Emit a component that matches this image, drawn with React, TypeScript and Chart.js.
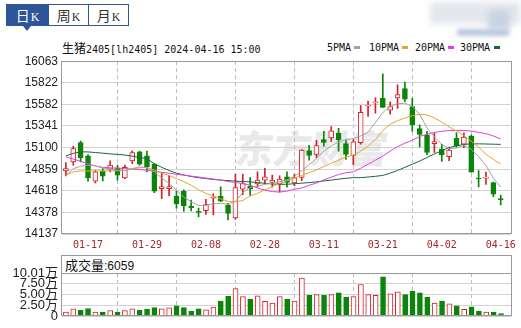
import React, { useEffect, useRef } from "react";
import { Chart, registerables } from "chart.js";

Chart.register(...registerables);

const dates = [
  "01-12","01-15","01-16","01-17","01-18","01-19","01-22","01-23","01-24","01-25",
  "01-26","01-29","01-30","01-31","02-01","02-02","02-05","02-06","02-07","02-08",
  "02-19","02-20","02-21","02-22","02-23","02-26","02-27","02-28","02-29","03-01",
  "03-04","03-05","03-06","03-07","03-08","03-11","03-12","03-13","03-14","03-15",
  "03-18","03-19","03-20","03-21","03-22","03-25","03-26","03-27","03-28","03-29",
  "04-01","04-02","04-03","04-08","04-09","04-10","04-11","04-12","04-15","04-16",
];

const opens = [
  14840,14941,15157,15008,14725,14837,14859,14874,14762,14952,
  15053,15008,14915,14643,14643,14561,14613,14445,14385,14397,
  14535,14556,14459,14315,14637,14669,14694,14738,14712,14694,
  14775,14705,14767,15068,15024,15188,15207,15261,15144,15013,
  15155,15563,15598,15648,15516,15655,15757,15556,15312,15239,
  15144,15082,14998,15202,15137,15228,14760,14760,14709,14525,
];
const highs = [
  14934,15113,15172,15023,14848,14866,14952,14904,14904,15064,
  15060,15060,14922,14822,14792,14613,14628,14516,14426,14523,
  14585,14663,14478,14805,14805,14767,14830,14870,14793,14786,
  14830,14804,15078,15126,15181,15280,15335,15316,15177,15188,
  15567,15618,15655,15921,15611,15801,15830,15648,15355,15282,
  15264,15137,15107,15264,15264,15239,14845,14826,14717,14571,
];
const lows = [
  14784,14904,14941,14725,14706,14728,14829,14736,14755,14922,
  14904,14829,14598,14531,14561,14426,14389,14393,14326,14356,
  14350,14496,14293,14300,14575,14566,14658,14694,14658,14603,
  14658,14676,14731,14961,14987,15115,15170,15060,14969,14910,
  15137,15447,15483,15549,15472,15538,15611,15282,15107,15020,
  15045,14947,14954,15107,15100,14826,14662,14691,14553,14461,
];
const closes = [
  14866,15090,14986,14762,14829,14781,14904,14792,14881,15045,
  14915,14885,14613,14665,14665,14471,14449,14430,14378,14464,
  14545,14504,14367,14655,14700,14640,14738,14775,14738,14749,
  14712,14767,15071,15013,15123,15159,15287,15188,15024,15163,
  15494,15574,15606,15549,15556,15691,15640,15355,15246,15045,
  15166,15020,15071,15118,15217,14826,14750,14768,14582,14520,
];
const volumes = [
  9300,17000,13500,17800,9300,9300,12800,9300,12800,17000,
  13500,15700,20000,17000,19200,24200,20000,11400,17000,15000,
  21400,34900,46300,64000,45600,39200,47000,34200,30600,45600,
  39200,34900,88300,48400,49900,48400,49900,54100,44200,45600,
  73400,49900,48400,91200,52000,56300,49900,58400,54100,43500,
  30600,34900,28500,24200,15700,22000,11400,9300,9300,6059,
];

const ma5 = [
  14792,14866,14892,14904,14896,14874,14859,14848,14844,14866,
  14885,14874,14829,14762,14699,14624,14549,14494,14455,14455,
  14475,14478,14470,14500,14600,14655,14672,14690,14705,14720,
  14740,14780,14840,14910,14980,15060,15120,15160,15190,15200,
  15230,15270,15380,15490,15560,15590,15595,15560,15470,15320,
  15220,15137,15090,15095,15125,15080,15000,14900,14760,14660,
];
const ma10 = [
  14792,14830,14840,14840,14840,14840,14840,14842,14845,14860,
  14875,14878,14850,14815,14790,14755,14720,14680,14630,14590,
  14560,14530,14500,14495,14510,14560,14590,14630,14665,14700,
  14730,14760,14790,14820,14850,14890,14925,14960,14995,15015,
  15060,15115,15190,15290,15360,15400,15430,15455,15472,15465,
  15430,15385,15330,15285,15235,15170,15105,15025,14970,14915,
];
const ma20 = [
  14997,14972,14948,14920,14895,14880,14875,14870,14866,14860,
  14855,14848,14835,14825,14815,14802,14793,14782,14772,14760,
  14750,14738,14722,14712,14700,14680,14650,14625,14610,14605,
  14615,14635,14650,14680,14705,14740,14770,14800,14820,14830,
  14870,14915,14960,15005,15060,15110,15150,15180,15225,15250,
  15268,15282,15290,15292,15290,15285,15270,15255,15230,15195,
];
const ma30 = [
  15008,15035,15053,15052,15045,15038,15030,15024,15017,15005,
  14990,14975,14920,14880,14845,14815,14795,14778,14765,14755,
  14745,14738,14732,14727,14722,14718,14710,14702,14695,14690,
  14692,14697,14703,14710,14718,14728,14738,14748,14758,14765,
  14765,14772,14780,14790,14815,14845,14880,14915,14950,14990,
  15030,15065,15100,15120,15135,15142,15142,15140,15138,15136,
];

const xTickIndex = [3, 11, 19, 27, 35, 43, 51, 59];
const priceTicks = [14137, 14378, 14618, 14859, 15100, 15341, 15582, 15822, 16063];
const volTicks = [0, 25000, 50000, 75000, 100100];
const volTickLabels = ["0", "2.50万", "5.00万", "7.50万", "10.01万"];
const maNames = ["5PMA", "10PMA", "20PMA", "30PMA"];
const lastVolume = "6059";
const titleText = "生猪2405[lh2405] 2024-04-16 15:00";

const UP = "#d62028";
const DOWN = "#0a850a";
const MA_COLORS = ["#a3a3a3", "#e8a628", "#e23ee2", "#17683a"];

const X_MIN = -0.53;
const X_MAX = 60.35;

const MONO = "'DejaVu Sans Mono', 'Liberation Mono', monospace";
const CJK = "'Noto Sans CJK SC', sans-serif";

const boxPlugin = {
  id: "plotBox",
  afterDraw(chart: any) {
    const { ctx, chartArea } = chart;
    const l = Math.round(chartArea.left) - 0.5;
    const t = Math.round(chartArea.top) + 0.5;
    const r = Math.round(chartArea.right) + 0.5;
    const b = Math.round(chartArea.bottom) - 0.5;
    ctx.save();
    ctx.strokeStyle = "#9a9a9a";
    ctx.lineWidth = 1;
    ctx.strokeRect(l, t, r - l, b - t);
    ctx.restore();
  },
};

const xScaleBase = (showLabels: boolean, height: number) => ({
  type: "linear" as const,
  min: X_MIN,
  max: X_MAX,
  offset: false,
  afterBuildTicks: (s: any) => {
    s.ticks = xTickIndex.map((v) => ({ value: v }));
  },
  afterFit: (s: any) => {
    s.height = height;
  },
  ticks: {
    display: showLabels,
    autoSkip: false,
    maxRotation: 0,
    color: "#a3292b",
    padding: 5,
    font: { family: MONO, size: 10 },
    callback: (v: any) => dates[v] ?? "",
  },
  grid: { color: "#bdbdbd", drawTicks: false, lineWidth: 1 },
  border: { display: false, dash: [4, 3] },
});

export default function App() {
  const mainRef = useRef<HTMLCanvasElement>(null);
  const volRef = useRef<HTMLCanvasElement>(null);

  useEffect(() => {
    const isUp = closes.map((c, i) => c >= opens[i]);
    const lineColor = isUp.map((u) => (u ? UP : DOWN));
    const fill = isUp.map((u) => (u ? "#ffffff" : DOWN));

    const maSets = [ma5, ma10, ma20, ma30].map((arr, k) => ({
      type: "line" as const,
      label: maNames[k],
      data: arr.map((v, i) => ({ x: i, y: v })),
      borderColor: MA_COLORS[k],
      borderWidth: 1,
      pointRadius: 0,
      tension: 0,
      order: 0,
    }));

    const main = new Chart(mainRef.current!, {
      type: "bar",
      data: {
        datasets: [
          ...maSets,
          {
            type: "bar" as const,
            label: "body",
            data: opens.map((o, i) => ({ x: i, y: [o, closes[i]] })) as any,
            backgroundColor: fill,
            borderColor: lineColor,
            borderWidth: 1,
            borderSkipped: false,
            barThickness: 5,
            minBarLength: 1,
            grouped: false,
            order: 1,
          },
          {
            type: "bar" as const,
            label: "wick",
            data: highs.map((h, i) => ({ x: i, y: [lows[i], h] })) as any,
            backgroundColor: lineColor,
            borderWidth: 0,
            barThickness: 1,
            grouped: false,
            order: 2,
          },
        ] as any,
      },
      options: {
        animation: false,
        responsive: false,
        maintainAspectRatio: false,
        layout: { padding: { top: 11, right: 10, left: 0, bottom: 0 } },
        plugins: { legend: { display: false }, tooltip: { enabled: false } },
        scales: {
          x: xScaleBase(true, 21) as any,
          y: {
            min: 14137,
            max: 16063,
            afterBuildTicks: (s: any) => {
              s.ticks = priceTicks.map((v) => ({ value: v }));
            },
            afterFit: (s: any) => {
              s.width = 62;
            },
            ticks: {
              autoSkip: false,
              color: "#222",
              padding: 4,
              font: { family: "'Liberation Sans', Arial, sans-serif", size: 12 },
              callback: (v: any) => String(v),
            },
            grid: { color: "#d2d2d2", drawTicks: false },
            border: { display: false },
          },
        },
      },
      plugins: [boxPlugin],
    });

    const vol = new Chart(volRef.current!, {
      type: "bar",
      data: {
        datasets: [
          {
            label: "vol",
            data: volumes.map((v, i) => ({ x: i, y: v })) as any,
            backgroundColor: fill,
            borderColor: lineColor,
            borderWidth: 1,
            borderSkipped: false,
            barThickness: 5,
            grouped: false,
          },
        ],
      },
      options: {
        animation: false,
        responsive: false,
        maintainAspectRatio: false,
        layout: { padding: { top: 18, right: 10, left: 0, bottom: 8 } },
        plugins: { legend: { display: false }, tooltip: { enabled: false } },
        scales: {
          x: xScaleBase(false, 0) as any,
          y: {
            min: 0,
            max: 100100,
            afterBuildTicks: (s: any) => {
              s.ticks = volTicks.map((v) => ({ value: v }));
            },
            afterFit: (s: any) => {
              s.width = 62;
            },
            ticks: {
              autoSkip: false,
              color: "#222",
              padding: 4,
              font: { family: "'Liberation Sans', 'Noto Sans CJK SC', sans-serif", size: 13 },
              callback: (v: any) => volTickLabels[volTicks.indexOf(v)] ?? "",
            },
            grid: { color: "#d2d2d2", drawTicks: false },
            border: { display: false },
          },
        },
      },
      plugins: [boxPlugin],
    });

    return () => {
      main.destroy();
      vol.destroy();
    };
  }, []);

  const navy = "#2e5597";
  const tabBase: React.CSSProperties = {
    position: "absolute",
    top: 4,
    height: 22,
    boxSizing: "border-box",
    border: `1px solid ${navy}`,
    display: "flex",
    alignItems: "center",
    justifyContent: "center",
    color: "#333",
  };
  const tabText = (a: string) => (
    <span style={{ display: "flex", alignItems: "baseline" }}>
      <span style={{ fontFamily: CJK, fontSize: 14 }}>{a}</span>
      <span style={{ fontFamily: "'Liberation Serif', serif", fontSize: 12, marginLeft: 1 }}>K</span>
    </span>
  );

  const legendPos = [
    { x: 327, sx: 354 },
    { x: 369, sx: 402 },
    { x: 415, sx: 448 },
    { x: 460, sx: 494 },
  ];

  return (
    <div
      style={{
        position: "absolute",
        left: 0,
        top: 0,
        width: 521,
        height: 328,
        background: "#fff",
        overflow: "hidden",
      }}
    >
      <div style={{ position: "absolute", left: 430, top: 2, width: 91, height: 22, background: "#e4e7ec", filter: "blur(3px)" }} />
      <div style={{ position: "absolute", left: 488, top: 10, width: 22, height: 20, background: "#c8d3e3", filter: "blur(3px)" }} />
      <div style={{ position: "absolute", left: 457, top: 29, width: 52, height: 7, background: "#b9c7dc", filter: "blur(2px)" }} />

      <div style={{ ...tabBase, left: 6, width: 43, background: navy, color: "#fff" }}>{tabText("日")}</div>
      <div style={{ ...tabBase, left: 48, width: 41 }}>{tabText("周")}</div>
      <div style={{ ...tabBase, left: 88, width: 41 }}>{tabText("月")}</div>
      <div
        style={{
          position: "absolute",
          left: 23,
          top: 26,
          width: 0,
          height: 0,
          borderLeft: "4px solid transparent",
          borderRight: "4px solid transparent",
          borderTop: `5px solid ${navy}`,
        }}
      />

      <div style={{ position: "absolute", left: 62, top: 41, height: 14, lineHeight: "14px", whiteSpace: "nowrap", color: "#111" }}>
        <span style={{ fontFamily: CJK, fontSize: 12 }}>{titleText.slice(0, 2)}</span>
        <span style={{ fontFamily: MONO, fontSize: 10 }}>{titleText.slice(2)}</span>
      </div>

      {maNames.map((n, k) => (
        <React.Fragment key={n}>
          <div style={{ position: "absolute", left: legendPos[k].x, top: 42, lineHeight: "12px", fontFamily: MONO, fontSize: 10, color: "#111" }}>{n}</div>
          <div style={{ position: "absolute", left: legendPos[k].sx, top: 46, width: 6, height: 3, background: MA_COLORS[k] }} />
        </React.Fragment>
      ))}

      <div
        style={{
          position: "absolute",
          left: 236,
          top: 124,
          fontFamily: CJK,
          fontSize: 38,
          fontWeight: 900,
          color: "#e9e9e9",
          whiteSpace: "nowrap",
          transform: "skewX(-8deg)",
          lineHeight: "46px",
        }}
      >
        东方财富
      </div>

      <canvas ref={mainRef} width={521} height={205} style={{ position: "absolute", left: 0, top: 50 }} />

      <div
        style={{
          position: "absolute",
          left: 61,
          top: 255,
          width: 451,
          height: 19,
          boxSizing: "border-box",
          border: "1px solid #9a9a9a",
          paddingLeft: 3,
          lineHeight: "17px",
          whiteSpace: "nowrap",
          color: "#111",
        }}
      >
        <span style={{ fontFamily: CJK, fontSize: 13 }}>成交量</span>
        <span style={{ fontFamily: "'Liberation Sans', Arial, sans-serif", fontSize: 12 }}>:{lastVolume}</span>
      </div>

      <canvas ref={volRef} width={521} height={73} style={{ position: "absolute", left: 0, top: 255 }} />
    </div>
  );
}
